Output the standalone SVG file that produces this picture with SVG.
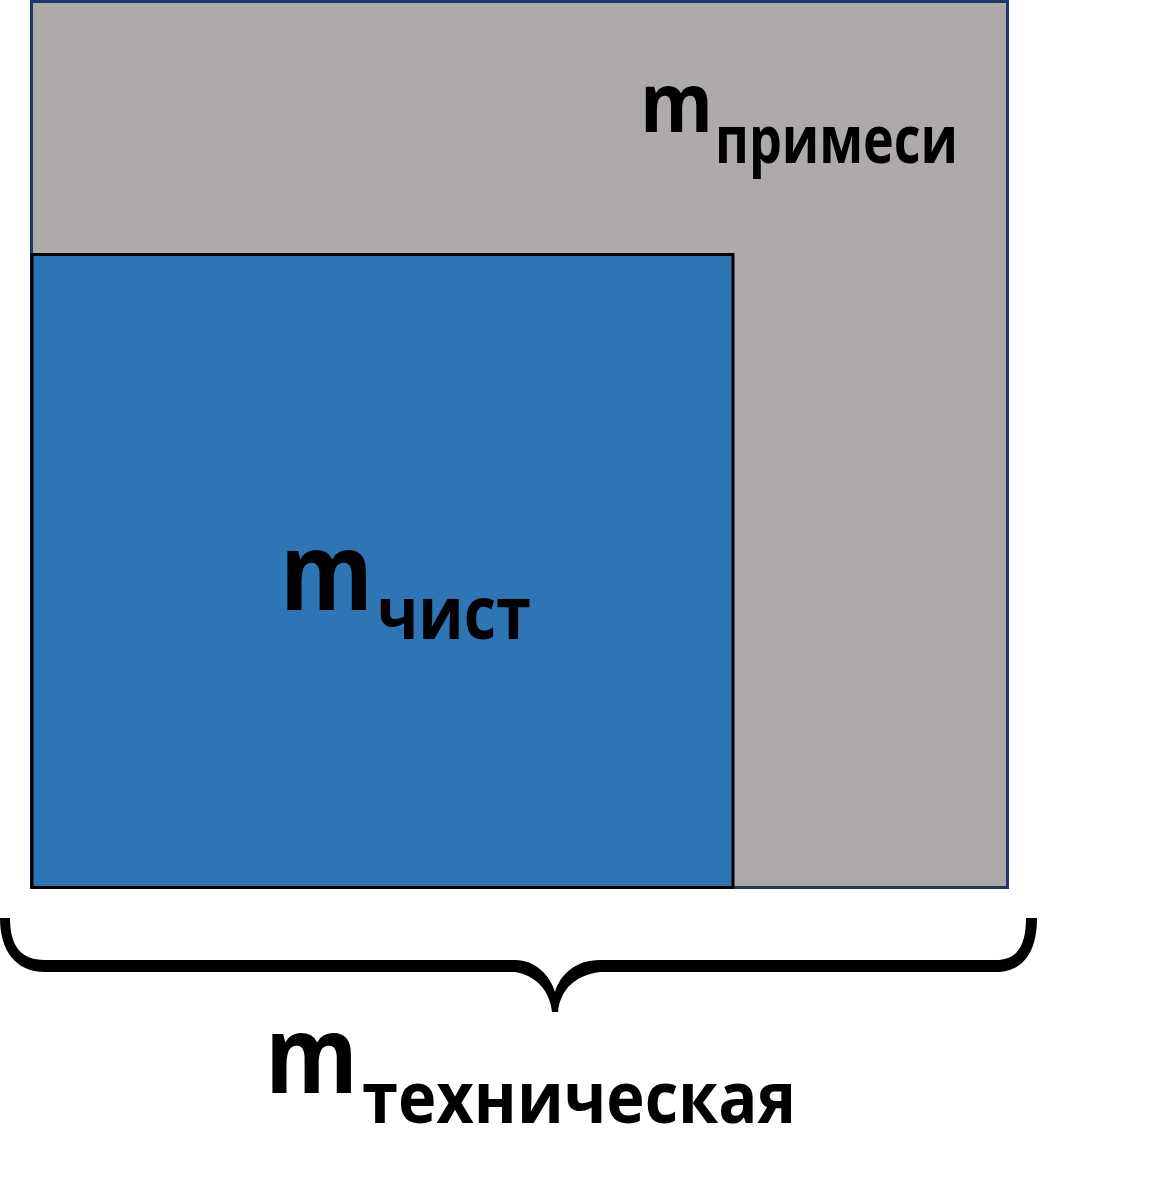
<svg xmlns="http://www.w3.org/2000/svg" width="1175" height="1200" viewBox="0 0 1175 1200">
<style>
.t{font-family:"Open Sans","Noto Sans","DejaVu Sans",sans-serif;font-weight:bold;fill:#000}
</style>
<rect width="1175" height="1200" fill="#fff"/>
<g id="impurity">
<rect x="31.5" y="1.5" width="976" height="886" fill="#AEAAAA" stroke="#1F3864" stroke-width="3"/>
<text class="t" x="640" y="132" font-size="82" textLength="73" lengthAdjust="spacingAndGlyphs">m</text>
<text class="t" x="715" y="163" font-size="67" textLength="243" lengthAdjust="spacingAndGlyphs">примеси</text>
</g>
<g id="pure">
<rect x="32" y="254.5" width="701" height="633" fill="#2E75B6" stroke="#000" stroke-width="3"/>
<text class="t" x="280" y="610" font-size="108" textLength="93" lengthAdjust="spacingAndGlyphs">m</text>
<text class="t" x="377" y="639" font-size="73" textLength="154" lengthAdjust="spacingAndGlyphs">чист</text>
</g>
<g id="connectors">
<path d="M0,918 C0,950 15,972 45,972 L515,972 C535,975 550,990 552,1012 L558,1012 C560,990 575,975 600,972 L995,972 C1025,972 1037,950 1037,918 L1026,918 C1026,945 1018,960 995,960 L600,960 C575,960 560,975 555,992 C550,975 535,960 515,960 L45,960 C20,960 10,945 10,918 Z" fill="#000"/>
</g>
<g id="technical">
<text class="t" x="265" y="1093" font-size="108" textLength="93" lengthAdjust="spacingAndGlyphs">m</text>
<text class="t" x="362" y="1123" font-size="72" textLength="434" lengthAdjust="spacingAndGlyphs">техническая</text>
</g>
</svg>
